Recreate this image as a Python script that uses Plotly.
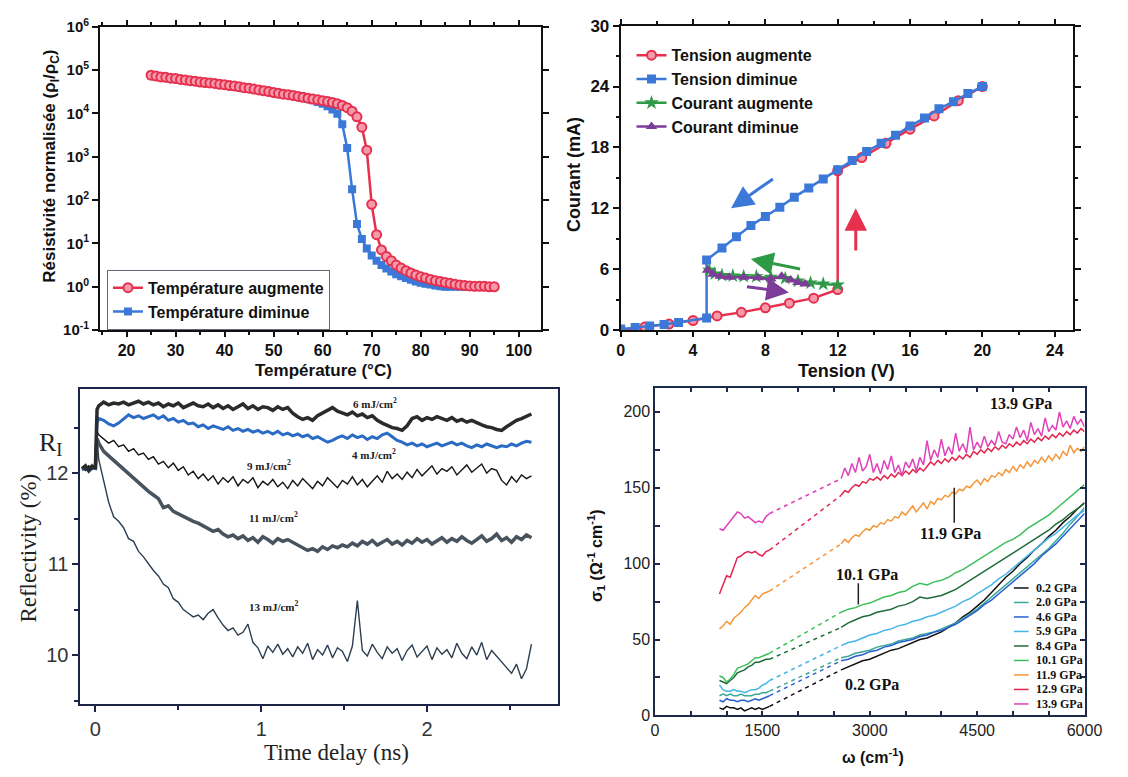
import plotly.graph_objects as go

W, H = 1128, 777


def px(x):
    return x / W


def py(y):
    return 1 - y / H


SANS = "Liberation Sans"
SERIF = "Liberation Serif"

# ---------- (a) résistivité normalisée vs température ----------
temp_c = [25, 26, 27, 28, 29, 30, 31, 32, 33, 34,
          35, 36, 37, 38, 39, 40, 41, 42, 43, 44,
          45, 46, 47, 48, 49, 50, 51, 52, 53, 54,
          55, 56, 57, 58, 59, 60, 61, 62, 63, 64,
          65, 66, 67, 68, 69, 70, 71, 72, 73, 74,
          75, 76, 77, 78, 79, 80, 81, 82, 83, 84,
          85, 86, 87, 88, 89, 90, 91, 92, 93, 94, 95]
# log10(rho/rho_c)
log_rho_up = [4.88, 4.86, 4.84, 4.83, 4.81, 4.80, 4.78, 4.77, 4.75, 4.74,
              4.72, 4.71, 4.70, 4.69, 4.67, 4.66, 4.64, 4.63, 4.61, 4.59,
              4.58, 4.56, 4.54, 4.52, 4.50, 4.48, 4.46, 4.44, 4.43, 4.41,
              4.39, 4.37, 4.35, 4.33, 4.31, 4.29, 4.27, 4.25, 4.22, 4.18,
              4.13, 4.05, 3.92, 3.68, 3.15, 1.90, 1.20, 0.85, 0.70, 0.60,
              0.50, 0.43, 0.37, 0.32, 0.27, 0.23, 0.20, 0.17, 0.14, 0.12,
              0.10, 0.08, 0.06, 0.04, 0.03, 0.02, 0.01, 0.01, 0.01, 0.0, 0.0]
log_rho_down = [4.87, 4.85, 4.83, 4.82, 4.80, 4.79, 4.77, 4.76, 4.74, 4.73,
                4.71, 4.70, 4.69, 4.68, 4.66, 4.65, 4.63, 4.62, 4.60, 4.58,
                4.57, 4.55, 4.53, 4.51, 4.49, 4.47, 4.45, 4.44, 4.42, 4.40,
                4.38, 4.36, 4.33, 4.30, 4.26, 4.22, 4.16, 4.09, 3.99, 3.75,
                3.20, 2.25, 1.45, 1.10, 0.88, 0.72, 0.60, 0.50, 0.42, 0.35,
                0.29, 0.24, 0.20, 0.16, 0.12, 0.09, 0.07, 0.05, 0.03, 0.01,
                0.0, 0.0, 0.0, 0.0, 0.0, 0.0, 0.0, 0.0, 0.0, 0.0, 0.0]
rho_tickvals = [0.1, 1, 10, 100, 1000, 1e4, 1e5, 1e6]
rho_ticktext = ["10<sup>-1</sup>", "10<sup>0</sup>", "10<sup>1</sup>", "10<sup>2</sup>",
                "10<sup>3</sup>", "10<sup>4</sup>", "10<sup>5</sup>", "10<sup>6</sup>"]

# ---------- (b) courant vs tension ----------
v_up = [0, 1.33, 2.67, 4.0, 5.33, 6.67, 8.0, 9.33, 10.67, 12.0, 12.0,
        13.33, 14.67, 16.0, 17.33, 18.67, 20.0]
i_up = [0.0, 0.3, 0.6, 0.95, 1.4, 1.75, 2.2, 2.65, 3.15, 4.0, 15.7,
        17.0, 18.4, 19.8, 21.1, 22.6, 24.0]
v_down = [20.0, 19.2, 18.4, 17.6, 16.8, 16.0, 15.2, 14.4, 13.6, 12.8, 12.0,
          11.2, 10.4, 9.6, 8.8, 8.0, 7.2, 6.4, 5.6, 4.75, 4.75,
          3.2, 2.4, 1.6, 0.8, 0.0]
i_down = [24.0, 23.3, 22.5, 21.8, 20.9, 20.1, 19.2, 18.4, 17.6, 16.7, 15.8,
          14.9, 14.0, 13.1, 12.1, 11.2, 10.3, 9.2, 8.1, 6.9, 1.2,
          0.75, 0.55, 0.4, 0.25, 0.1]
v_cur_up = [4.9, 5.2, 5.6, 6.2, 6.8, 7.5, 8.3, 9.1, 9.8, 10.5, 11.2, 12.0]
i_cur_up = [5.9, 5.55, 5.4, 5.35, 5.3, 5.28, 5.22, 5.1, 4.85, 4.65, 4.55, 4.45]
v_cur_down = [4.8, 5.1, 5.5, 6.0, 6.8, 7.6, 8.3, 8.9, 9.4, 9.8, 10.2]
i_cur_down = [5.9, 5.5, 5.3, 5.2, 5.2, 5.15, 5.05, 5.3, 4.95, 4.7, 4.55]
# direction arrows (tail -> head)
arrow_tail_v = [8.5, 10.0, 6.9, 13.0]
arrow_tail_i = [15.0, 6.0, 4.3, 7.7]
arrow_head_v = [6.1, 7.2, 9.3, 13.0]
arrow_head_i = [12.0, 7.0, 3.7, 12.0]
arrow_colors = ["#3b78d8", "#2f9a45", "#7d3c98", "#e6304e"]

# ---------- (c) reflectivity vs time delay ----------
t_ns = [-0.08, -0.06, -0.04, -0.02, 0.0, 0.01,
        0.02, 0.05, 0.08, 0.11, 0.14, 0.17, 0.20, 0.23, 0.26, 0.29,
        0.32, 0.35, 0.38, 0.41, 0.44, 0.47, 0.50, 0.53, 0.56, 0.59,
        0.62, 0.65, 0.68, 0.71, 0.74, 0.77, 0.80, 0.83, 0.86, 0.89,
        0.92, 0.95, 0.98, 1.01, 1.04, 1.07, 1.10, 1.13, 1.16, 1.19,
        1.22, 1.25, 1.28, 1.31, 1.34, 1.37, 1.40, 1.43, 1.46, 1.49,
        1.52, 1.55, 1.58, 1.61, 1.64, 1.67, 1.70, 1.73, 1.76, 1.79,
        1.82, 1.85, 1.88, 1.91, 1.94, 1.97, 2.00, 2.03, 2.06, 2.09,
        2.12, 2.15, 2.18, 2.21, 2.24, 2.27, 2.30, 2.33, 2.36, 2.39,
        2.42, 2.45, 2.48, 2.51, 2.54, 2.57, 2.60, 2.63]
refl_6 = [12.05, 12.08, 12.03, 12.07, 12.06, 12.70,
          12.74, 12.78, 12.75, 12.77, 12.76, 12.78, 12.75, 12.77, 12.79, 12.76,
          12.78, 12.75, 12.77, 12.73, 12.76, 12.74, 12.77, 12.72, 12.75, 12.77,
          12.74, 12.73, 12.76, 12.72, 12.75, 12.71, 12.74, 12.70, 12.73, 12.76,
          12.71, 12.74, 12.70, 12.73, 12.72, 12.69, 12.73, 12.70, 12.72, 12.66,
          12.62, 12.59, 12.61, 12.58, 12.63, 12.66, 12.70, 12.72, 12.68, 12.66,
          12.64, 12.67, 12.63, 12.65, 12.61, 12.63, 12.58, 12.55, 12.52, 12.50,
          12.49, 12.47, 12.52, 12.60, 12.62, 12.58, 12.61, 12.59, 12.62, 12.60,
          12.58, 12.61, 12.57, 12.59, 12.56, 12.58, 12.55, 12.53, 12.51, 12.50,
          12.48, 12.47, 12.51, 12.55, 12.58, 12.60, 12.63, 12.65]
refl_4 = [12.04, 12.07, 12.02, 12.06, 12.05, 12.55,
          12.60, 12.58, 12.54, 12.52, 12.55, 12.60, 12.64, 12.61, 12.63, 12.60,
          12.62, 12.64, 12.60, 12.63, 12.58, 12.60, 12.56, 12.58, 12.54, 12.55,
          12.51, 12.53, 12.49, 12.52, 12.50, 12.48, 12.51, 12.47, 12.49, 12.46,
          12.48, 12.45, 12.47, 12.44, 12.46, 12.43, 12.46, 12.42, 12.44, 12.41,
          12.43, 12.40, 12.42, 12.38, 12.40, 12.37, 12.34, 12.36, 12.39, 12.41,
          12.38, 12.42, 12.39, 12.41, 12.37, 12.40, 12.38, 12.42, 12.44, 12.40,
          12.36, 12.34, 12.31, 12.33, 12.30, 12.32, 12.29, 12.31, 12.33, 12.30,
          12.32, 12.34, 12.31, 12.33, 12.30, 12.28, 12.31, 12.29, 12.32, 12.30,
          12.28, 12.30, 12.29, 12.32, 12.30, 12.33, 12.35, 12.34]
refl_9 = [12.06, 12.03, 12.08, 12.04, 12.07, 12.46,
          12.42, 12.38, 12.33, 12.36, 12.29, 12.31, 12.24, 12.27, 12.20, 12.22,
          12.15, 12.18, 12.10, 12.13, 12.06, 12.11, 12.03, 12.07, 11.98, 12.02,
          11.94, 11.99, 11.92, 11.97, 11.88, 11.95, 11.90, 11.96, 11.86, 11.93,
          11.89, 11.95, 11.84, 11.91, 11.87, 11.93, 11.85, 11.90, 11.83, 11.92,
          11.86, 11.94, 11.88, 11.83, 11.91, 11.86, 11.95, 11.89, 11.84, 11.92,
          11.88, 11.96, 11.87, 11.93, 11.85, 11.91, 11.97, 11.90, 12.02, 11.94,
          11.99, 11.93, 12.01, 11.95, 12.04, 11.97, 12.03, 12.08, 11.99, 12.05,
          12.02, 12.07, 11.98, 12.04, 12.09, 12.01, 12.06, 12.10, 12.00, 12.05,
          12.03, 11.92, 11.87, 11.96, 11.90, 11.98, 11.94, 11.97]
refl_11 = [12.05, 12.07, 12.04, 12.08, 12.05, 12.38,
           12.33, 12.24, 12.19, 12.14, 12.10, 12.04, 11.99, 11.95, 11.90, 11.85,
           11.80, 11.76, 11.72, 11.62, 11.64, 11.58, 11.55, 11.52, 11.49, 11.47,
           11.45, 11.42, 11.40, 11.36, 11.38, 11.33, 11.30, 11.32, 11.28, 11.31,
           11.26, 11.29, 11.24, 11.30, 11.27, 11.23, 11.28, 11.25, 11.27, 11.24,
           11.20, 11.18, 11.15, 11.17, 11.14, 11.19, 11.16, 11.20, 11.18, 11.21,
           11.19, 11.23, 11.20, 11.25, 11.22, 11.26, 11.21, 11.24, 11.27, 11.22,
           11.25, 11.21, 11.26, 11.23, 11.28, 11.24, 11.27, 11.22, 11.26, 11.29,
           11.24, 11.28, 11.25, 11.30, 11.26, 11.23, 11.27, 11.31, 11.25, 11.28,
           11.33, 11.26, 11.29, 11.24, 11.30, 11.27, 11.32, 11.29]
refl_13 = [12.03, 12.06, 12.02, 12.07, 12.05, 12.40,
           12.15, 11.90, 11.68, 11.52, 11.47, 11.40, 11.28, 11.25, 11.14, 11.08,
           11.00, 10.93, 10.87, 10.78, 10.74, 10.62, 10.58, 10.50, 10.46, 10.42,
           10.44, 10.39, 10.46, 10.50, 10.41, 10.33, 10.27, 10.30, 10.22, 10.25,
           10.34, 10.14, 10.08, 9.96, 10.10, 10.03, 10.12, 10.01, 10.07, 9.98,
           10.09, 10.02, 10.13, 9.95, 10.06, 10.00, 10.11, 9.97, 10.08, 10.04,
           9.93, 10.10, 10.60, 10.05, 9.99, 10.12, 10.03, 9.96, 10.09, 10.02,
           10.07, 9.94, 10.05, 10.11, 9.98, 10.04, 10.10, 9.95, 10.08, 10.01,
           10.06, 9.97, 10.13, 10.02, 9.96, 10.09, 10.00, 10.14, 9.95, 10.05,
           9.99, 9.92, 9.86, 9.80, 9.90, 9.74, 9.85, 10.12]

# ---------- (d) sigma_1 vs omega ----------
w_lo = [900, 950, 1000, 1050, 1100, 1150, 1200, 1250, 1300, 1350, 1400, 1450, 1500, 1550, 1600]
w_hi = [2600, 2700, 2800, 2900, 3000, 3100, 3200, 3300, 3400, 3500,
        3600, 3700, 3800, 3900, 4000, 4100, 4200, 4300, 4400, 4500,
        4600, 4700, 4800, 4900, 5000, 5100, 5200, 5300, 5400, 5500,
        5600, 5700, 5800, 5900, 6000]
w_fine = [2600, 2650, 2700, 2750, 2800, 2850, 2900, 2950, 3000, 3050,
          3100, 3150, 3200, 3250, 3300, 3350, 3400, 3450, 3500, 3550,
          3600, 3650, 3700, 3750, 3800, 3850, 3900, 3950, 4000, 4050,
          4100, 4150, 4200, 4250, 4300, 4350, 4400, 4450, 4500, 4550,
          4600, 4650, 4700, 4750, 4800, 4850, 4900, 4950, 5000, 5050,
          5100, 5150, 5200, 5250, 5300, 5350, 5400, 5450, 5500, 5550,
          5600, 5650, 5700, 5750, 5800, 5850, 5900, 5950, 6000]

s02_lo = [5, 4, 6, 5, 5, 4, 5, 3, 4, 5, 4, 5, 4, 5, 6]
s02_hi = [30, 32, 34, 36, 37, 39, 41, 43, 44, 46, 48, 50, 51, 53, 55, 58, 61, 65,
          68, 72, 76, 81, 86, 91, 95, 100, 104, 109, 113, 118, 122, 127, 131, 136, 140]
s20_lo = [13, 14, 13, 14, 13, 13, 14, 13, 13, 13, 14, 14, 15, 15, 16]
s20_hi = [38, 39, 41, 42, 43, 45, 46, 47, 49, 50, 51, 53, 54, 55, 57, 59, 61, 64,
          67, 70, 74, 78, 82, 86, 90, 94, 98, 102, 106, 110, 115, 120, 126, 131, 137]
s46_lo = [10, 9, 11, 10, 10, 9, 10, 10, 9, 10, 11, 10, 11, 12, 13]
s46_hi = [36, 37, 39, 40, 42, 43, 45, 46, 48, 49, 50, 52, 53, 55, 56, 58, 60, 63,
          66, 69, 73, 76, 80, 84, 88, 92, 96, 100, 105, 109, 113, 118, 123, 128, 133]
s59_lo = [20, 17, 16, 16, 17, 16, 16, 15, 16, 17, 17, 18, 20, 21, 23]
s59_hi = [46, 48, 49, 51, 53, 54, 56, 57, 59, 60, 62, 63, 65, 66, 68, 70, 72, 75,
          77, 80, 83, 86, 90, 93, 97, 101, 105, 109, 113, 117, 120, 124, 128, 132, 135]
s84_lo = [23, 22, 21, 23, 25, 28, 29, 30, 32, 33, 35, 35, 36, 37, 37]
s84_hi = [58, 61, 63, 65, 66, 68, 69, 70, 72, 73, 75, 78, 77, 78, 79, 81, 83, 86,
          89, 92, 95, 98, 101, 104, 107, 110, 113, 116, 119, 122, 126, 129, 133, 136, 140]
s101_lo = [26, 25, 22, 24, 27, 31, 32, 33, 34, 36, 38, 38, 39, 40, 41]
s101_hi = [68, 70, 71, 73, 74, 76, 78, 79, 81, 82, 85, 87, 86, 88, 89, 91, 94, 96,
           99, 102, 105, 108, 111, 114, 116, 119, 123, 126, 129, 132, 136, 140, 144, 148, 152]
s119_lo = [57, 59, 62, 60, 64, 66, 68, 71, 73, 76, 79, 77, 80, 81, 82]
s119_hi = [113, 116, 114, 117, 119, 118, 121, 123, 122, 125,
           124, 127, 126, 129, 128, 131, 130, 134, 132, 135,
           138, 134, 137, 140, 136, 141, 139, 143, 142, 145,
           144, 147, 146, 149, 148, 151, 150, 153, 155, 152,
           156, 154, 158, 157, 160, 158, 162, 160, 164, 161,
           165, 163, 167, 164, 168, 166, 170, 167, 171, 168,
           172, 169, 174, 171, 178, 173, 176, 174, 177]
s129_lo = [80, 86, 92, 91, 97, 104, 105, 107, 108, 107, 108, 106, 105, 108, 109]
s129_hi = [145, 148, 147, 150, 152, 151, 154, 153, 156, 155,
           157, 155, 158, 156, 159, 157, 160, 158, 161, 159,
           162, 160, 163, 161, 164, 167, 165, 168, 166, 169,
           167, 170, 168, 171, 169, 172, 170, 174, 172, 175,
           173, 176, 174, 177, 175, 178, 176, 179, 177, 180,
           178, 181, 179, 182, 180, 183, 181, 184, 182, 185,
           183, 186, 184, 187, 185, 188, 186, 189, 187]
s139_lo = [123, 122, 125, 128, 131, 134, 133, 130, 131, 129, 127, 128, 127, 131, 133]
s139_hi = [156, 163, 158, 166, 160, 170, 161, 164, 172, 160,
           166, 159, 168, 162, 171, 160, 165, 158, 167, 163,
           169, 161, 170, 165, 181, 168, 175, 170, 182, 171,
           177, 172, 186, 174, 179, 173, 190, 175, 180, 176,
           184, 177, 181, 178, 187, 180, 179, 185, 182, 190,
           183, 188, 181, 193, 185, 189, 184, 196, 187, 191,
           188, 200, 190, 194, 189, 197, 192, 195, 190]

p4_labels = ["0.2 GPa", "2.0 GPa", "4.6 GPa", "5.9 GPa", "8.4 GPa",
             "10.1 GPa", "11.9 GPa", "12.9 GPa", "13.9 GPa"]
p4_colors = ["#111111", "#3aa89a", "#2a5fd0", "#45b5e8", "#1f6b3a",
             "#3cbf5a", "#f5973a", "#e22650", "#e040b8"]
p4_lo = [s02_lo, s20_lo, s46_lo, s59_lo, s84_lo, s101_lo, s119_lo, s129_lo, s139_lo]
p4_hi = [s02_hi, s20_hi, s46_hi, s59_hi, s84_hi, s101_hi, s119_hi, s129_hi, s139_hi]
p4_hi_w = [w_hi, w_hi, w_hi, w_hi, w_hi, w_hi, w_fine, w_fine, w_fine]

RED = "#e6304e"
PINK = "#f59aaa"
BLUE = "#3b78d8"
GREEN = "#2f9a45"
PURPLE = "#7d3c98"

fig = go.Figure()

# panel a
fig.add_trace(go.Scatter(
    x=temp_c, y=[10 ** v for v in log_rho_down], mode="lines+markers",
    name="Température diminue", legend="legend", legendrank=2,
    line=dict(color=BLUE, width=2.5),
    marker=dict(symbol="square", size=8, color=BLUE),
    xaxis="x", yaxis="y"))
fig.add_trace(go.Scatter(
    x=temp_c, y=[10 ** v for v in log_rho_up], mode="lines+markers",
    name="Température augmente", legend="legend", legendrank=1,
    line=dict(color=RED, width=2.5),
    marker=dict(symbol="circle", size=9, color=PINK, line=dict(color=RED, width=2)),
    xaxis="x", yaxis="y"))

# panel b
fig.add_trace(go.Scatter(
    x=v_up, y=i_up, mode="lines+markers", name="Tension augmente", legend="legend2",
    line=dict(color=RED, width=2.5),
    marker=dict(symbol="circle", size=9, color=PINK, line=dict(color=RED, width=2)),
    xaxis="x2", yaxis="y2"))
fig.add_trace(go.Scatter(
    x=v_down, y=i_down, mode="lines+markers", name="Tension diminue", legend="legend2",
    line=dict(color=BLUE, width=2.5),
    marker=dict(symbol="square", size=9, color=BLUE),
    xaxis="x2", yaxis="y2"))
fig.add_trace(go.Scatter(
    x=v_cur_up, y=i_cur_up, mode="lines+markers", name="Courant augmente", legend="legend2",
    line=dict(color=GREEN, width=2.5),
    marker=dict(symbol="star", size=11, color=GREEN),
    xaxis="x2", yaxis="y2"))
fig.add_trace(go.Scatter(
    x=v_cur_down, y=i_cur_down, mode="lines+markers", name="Courant diminue", legend="legend2",
    line=dict(color=PURPLE, width=2.5),
    marker=dict(symbol="triangle-up", size=10, color=PURPLE),
    xaxis="x2", yaxis="y2"))

# panel c
for ys, col, wid in [(refl_13, "#2c3e50", 1.4), (refl_11, "#47535e", 3.5),
                     (refl_9, "#151515", 1.4), (refl_4, "#2a6cc4", 3.0),
                     (refl_6, "#2b2b2b", 3.5)]:
    fig.add_trace(go.Scatter(x=t_ns, y=ys, mode="lines", showlegend=False,
                             line=dict(color=col, width=wid),
                             xaxis="x3", yaxis="y3"))

# panel d
for lab, col, lo, hi, whi in zip(p4_labels, p4_colors, p4_lo, p4_hi, p4_hi_w):
    fig.add_trace(go.Scatter(x=w_lo, y=lo, mode="lines", showlegend=False,
                             line=dict(color=col, width=1.5), xaxis="x4", yaxis="y4"))
    fig.add_trace(go.Scatter(x=[w_lo[-1], whi[0]], y=[lo[-1], hi[0]], mode="lines",
                             showlegend=False,
                             line=dict(color=col, width=1.5, dash="4px,4px"),
                             xaxis="x4", yaxis="y4"))
    fig.add_trace(go.Scatter(x=whi, y=hi, mode="lines", showlegend=False,
                             line=dict(color=col, width=1.5), xaxis="x4", yaxis="y4"))

BOLD_TICK = dict(family=SANS, size=16, color="#111", weight="bold")


def frame_axis(**kw):
    base = dict(showline=True, linecolor="#111", linewidth=2, mirror="ticks",
                showgrid=False, zeroline=False, ticks="outside", ticklen=6,
                tickwidth=1.5, tickcolor="#111")
    base.update(kw)
    return base


d1x, d1y = [px(98), px(548)], [py(328), py(16)]
d2x, d2y = [px(629), px(1090)], [py(328), py(15)]
d3x, d3y = [px(78), px(565)], [py(712), py(388)]
d4x, d4y = [px(664), px(1102)], [py(724), py(387)]

fig.update_layout(
    width=W, height=H, margin=dict(l=0, r=0, t=0, b=0),
    paper_bgcolor="white", plot_bgcolor="white",
    xaxis=frame_axis(domain=d1x, anchor="y", range=[14.6, 104.6], dtick=10, tick0=0,
                     ticklen=5,
                     minor=dict(dtick=5, ticks="outside", ticklen=3, tickcolor="#111"),
                     tickfont=BOLD_TICK),
    yaxis=frame_axis(domain=d1y, anchor="x", type="log", range=[-1, 6],
                     tickvals=rho_tickvals, ticktext=rho_ticktext,
                     tickfont=dict(family=SANS, size=15, color="#111", weight="bold")),
    xaxis2=frame_axis(domain=d2x, anchor="y2", range=[0, 25], dtick=4, tick0=0,
                      ticklen=5,
                      minor=dict(dtick=2, ticks="outside", ticklen=3, tickcolor="#111"),
                      tickfont=dict(family=SANS, size=16, color="#111", weight="bold")),
    yaxis2=frame_axis(domain=d2y, anchor="x2", range=[0, 30], dtick=6, tick0=0,
                      minor=dict(dtick=3, ticks="outside", ticklen=3, tickcolor="#111"),
                      tickfont=dict(family=SANS, size=17, color="#111", weight="bold")),
    xaxis3=frame_axis(domain=d3x, anchor="y3", range=[-0.09, 2.79], dtick=1, tick0=0,
                      linecolor="#1c2448", tickcolor="#1c2448", mirror=True,
                      minor=dict(dtick=0.5, ticks="outside", ticklen=4, tickcolor="#1c2448"),
                      tickfont=dict(family=SANS, size=20, color="#333")),
    yaxis3=frame_axis(domain=d3y, anchor="x3", range=[9.465, 12.93], dtick=1, tick0=0,
                      linecolor="#1c2448", tickcolor="#1c2448", mirror=True,
                      minor=dict(dtick=0.5, ticks="outside", ticklen=4, tickcolor="#1c2448"),
                      tickfont=dict(family=SANS, size=20, color="#333")),
    xaxis4=frame_axis(domain=d4x, anchor="y4", range=[0, 6000], dtick=1500, tick0=0,
                      linecolor="#1c2a4a", linewidth=1.5, ticks="inside",
                      tickcolor="#1c2a4a", ticklen=5,
                      minor=dict(dtick=500, ticks="inside", ticklen=5, tickcolor="#1c2a4a"),
                      tickfont=dict(family=SANS, size=16, color="#222")),
    yaxis4=frame_axis(domain=d4y, anchor="x4", range=[0, 216], dtick=50, tick0=0,
                      linecolor="#1c2a4a", linewidth=1.5, ticks="inside",
                      tickcolor="#1c2a4a", ticklen=5,
                      minor=dict(dtick=25, ticks="inside", ticklen=5, tickcolor="#1c2a4a"),
                      tickfont=dict(family=SANS, size=16, color="#222")),
    legend=dict(x=px(105), y=py(266), xanchor="left", yanchor="top",
                bordercolor="#667", borderwidth=1, bgcolor="rgba(255,255,255,0)",
                tracegroupgap=0,
                font=dict(family=SANS, size=16, color="#111", weight="bold")),
    legend2=dict(x=px(640), y=py(28), xanchor="left", yanchor="top",
                 bgcolor="rgba(255,255,255,0)", tracegroupgap=0,
                 font=dict(family=SANS, size=16, color="#111", weight="bold")),
)

ann = []
shapes = []

# axis titles
ann += [
    dict(x=px(48), y=py(160), text="Résistivité normalisée (ρ<sub>I</sub>/ρ<sub>C</sub>)",
         textangle=-90, font=dict(family=SANS, size=17, color="#111", weight="bold")),
    dict(x=px(326), y=py(369), text="Température (°C)",
         font=dict(family=SANS, size=17, color="#111", weight="bold")),
    dict(x=px(582), y=py(168), text="Courant (mA)", textangle=-90,
         font=dict(family=SANS, size=18, color="#111", weight="bold")),
    dict(x=px(859), y=py(370), text="Tension (V)",
         font=dict(family=SANS, size=18, color="#111", weight="bold")),
    dict(x=px(25), y=py(552), text="Reflectivity (%)", textangle=-90,
         font=dict(family=SERIF, size=23, color="#222")),
    dict(x=px(339), y=py(762), text="Time delay (ns)",
         font=dict(family=SERIF, size=23, color="#222")),
    dict(x=px(604), y=py(560), text="σ<sub>1</sub> (Ω<sup>-1</sup> cm<sup>-1</sup>)",
         textangle=-90, font=dict(family=SANS, size=16, color="#111", weight="bold")),
    dict(x=px(886), y=py(766), text="ω (cm<sup>-1</sup>)",
         font=dict(family=SANS, size=16, color="#111", weight="bold")),
]

# panel c labels
ann.append(dict(x=px(47), y=py(445), text="R<sub>I</sub>",
                font=dict(family=SERIF, size=26, color="#222")))
for txt, xx, yy in [("6 mJ/cm<sup>2</sup>", 378, 403), ("4 mJ/cm<sup>2</sup>", 377, 455),
                    ("9 mJ/cm<sup>2</sup>", 270, 467), ("11 mJ/cm<sup>2</sup>", 275, 520),
                    ("13 mJ/cm<sup>2</sup>", 275, 612)]:
    ann.append(dict(x=px(xx), y=py(yy), text=txt,
                    font=dict(family=SERIF, size=11, color="#222", weight="bold")))

# panel d labels
for txt, xx, yy in [("13.9 GPa", 1037, 403), ("11.9 GPa", 965, 537),
                    ("10.1 GPa", 880, 579), ("0.2 GPa", 885, 692)]:
    ann.append(dict(x=px(xx), y=py(yy), text=txt,
                    font=dict(family=SERIF, size=16, color="#111", weight="bold")))
pointer_w = [4180, 2840]
pointer_top = [150, 87]
pointer_bot = [127, 73]
for pw, pt, pb in zip(pointer_w, pointer_top, pointer_bot):
    shapes.append(dict(type="line", xref="x4", yref="y4", x0=pw, x1=pw, y0=pt, y1=pb,
                       line=dict(color="#222", width=1.5)))

# panel d legend (drawn by hand: compact row spacing)
for k, (lab, col) in enumerate(zip(p4_labels, p4_colors)):
    yy = py(593 + 14.9 * k)
    shapes.append(dict(type="line", xref="paper", yref="paper", x0=px(1030), x1=px(1045),
                       y0=yy, y1=yy, line=dict(color=col, width=1.5)))
    ann.append(dict(x=px(1050), y=yy, text=lab, xanchor="left",
                    font=dict(family=SERIF, size=12, color="#111", weight="bold")))

for a in ann:
    a.setdefault("xref", "paper")
    a.setdefault("yref", "paper")
    a.setdefault("showarrow", False)
    a.setdefault("xanchor", "center")
    a.setdefault("yanchor", "middle")

# panel b arrows
for tv, ti, hv, hi, col in zip(arrow_tail_v, arrow_tail_i, arrow_head_v, arrow_head_i, arrow_colors):
    ann.append(dict(x=hv, y=hi, ax=tv, ay=ti, xref="x2", yref="y2", axref="x2", ayref="y2",
                    text="", showarrow=True, arrowhead=2, arrowsize=1.5, arrowwidth=3,
                    arrowcolor=col))

fig.update_layout(annotations=ann, shapes=shapes)
fig.write_html("out.html", config={"displayModeBar": False},
               post_script="document.body.style.margin='0';document.body.style.overflow='hidden';")
